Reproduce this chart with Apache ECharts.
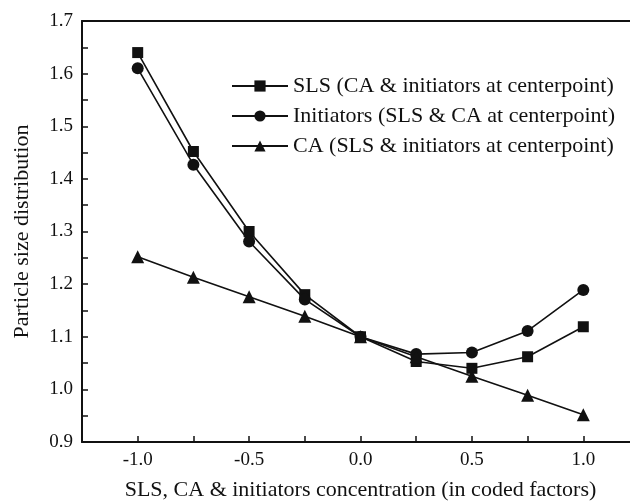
<!DOCTYPE html>
<html><head><meta charset="utf-8">
<script src="https://cdn.jsdelivr.net/npm/echarts@6/dist/echarts.min.js"></script>
<style>html,body{margin:0;padding:0;background:#fff}#c{width:630px;height:502px}</style>
</head><body><div id="c"></div>
<script>
const xValues = [-1.0, -0.75, -0.5, -0.25, 0.0, 0.25, 0.5, 0.75, 1.0];
const slsValues = [1.640, 1.452, 1.300, 1.180, 1.100, 1.053, 1.040, 1.062, 1.119];
const initiatorValues = [1.610, 1.427, 1.281, 1.171, 1.100, 1.067, 1.070, 1.111, 1.189];
const caValues = [1.252, 1.213, 1.176, 1.139, 1.100, 1.062, 1.025, 0.989, 0.952];
const seriesNames = ['SLS (CA & initiators at centerpoint)', 'Initiators (SLS & CA at centerpoint)', 'CA (SLS & initiators at centerpoint)'];
const xTitle = 'SLS, CA & initiators concentration (in coded factors)';
const yTitle = 'Particle size distribution';

const font = 'Liberation Serif';
const pair = v => xValues.map((x, i) => [x, v[i]]);
const mk = (name, data, symbol, size) => ({
  name, type: 'line', data: pair(data), symbol, symbolSize: size,
  itemStyle: {color: '#111'}, lineStyle: {color: '#111', width: 1.6}, z: 3
});
const chart = echarts.init(document.getElementById('c'));
chart.setOption({
  animation: false,
  grid: {left: 82, top: 21, width: 557, height: 421, outerBoundsMode: 'none', containLabel: false},
  legend: {
    orient: 'vertical', left: 226, top: 70, itemWidth: 56, itemHeight: 14, itemGap: 8,
    textStyle: {fontFamily: font, fontSize: 22, color: '#111'},
    data: seriesNames
  },
  xAxis: [{
    type: 'value', min: -1.25, max: 1.25, interval: 0.25,
    name: xTitle, nameLocation: 'middle', nameGap: 37,
    nameTextStyle: {fontFamily: font, fontSize: 22, color: '#111'},
    axisLine: {onZero: false, lineStyle: {color: '#111', width: 2}},
    axisTick: {inside: true, length: 6, lineStyle: {color: '#111', width: 1.5}},
    axisLabel: {fontFamily: font, fontSize: 19, color: '#111', margin: 9,
      formatter: v => (Math.abs(Math.round(v * 4)) % 2 === 0 ? v.toFixed(1) : '')},
    splitLine: {show: false}
  }, {
    type: 'value', position: 'top', min: -1.25, max: 1.25, interval: 0.25,
    axisLine: {show: true, onZero: false, lineStyle: {color: '#111', width: 2}},
    axisTick: {show: false}, axisLabel: {show: false}, splitLine: {show: false}
  }],
  yAxis: {
    type: 'value', min: 0.9, max: 1.7, interval: 0.1,
    name: yTitle, nameLocation: 'middle', nameGap: 49,
    nameTextStyle: {fontFamily: font, fontSize: 22, color: '#111'},
    axisLine: {show: true, onZero: false, lineStyle: {color: '#111', width: 2}},
    axisTick: {inside: true, length: 6, lineStyle: {color: '#111', width: 1.5}},
    minorTick: {show: true, splitNumber: 2, length: 6, lineStyle: {color: '#111', width: 1.5}},
    axisLabel: {fontFamily: font, fontSize: 19, color: '#111', margin: 9,
      formatter: v => v.toFixed(1)},
    splitLine: {show: false}
  },
  series: [
    mk(seriesNames[0], slsValues, 'rect', 11),
    mk(seriesNames[1], initiatorValues, 'circle', 12),
    mk(seriesNames[2], caValues, 'triangle', 13)
  ]
});
</script></body></html>
